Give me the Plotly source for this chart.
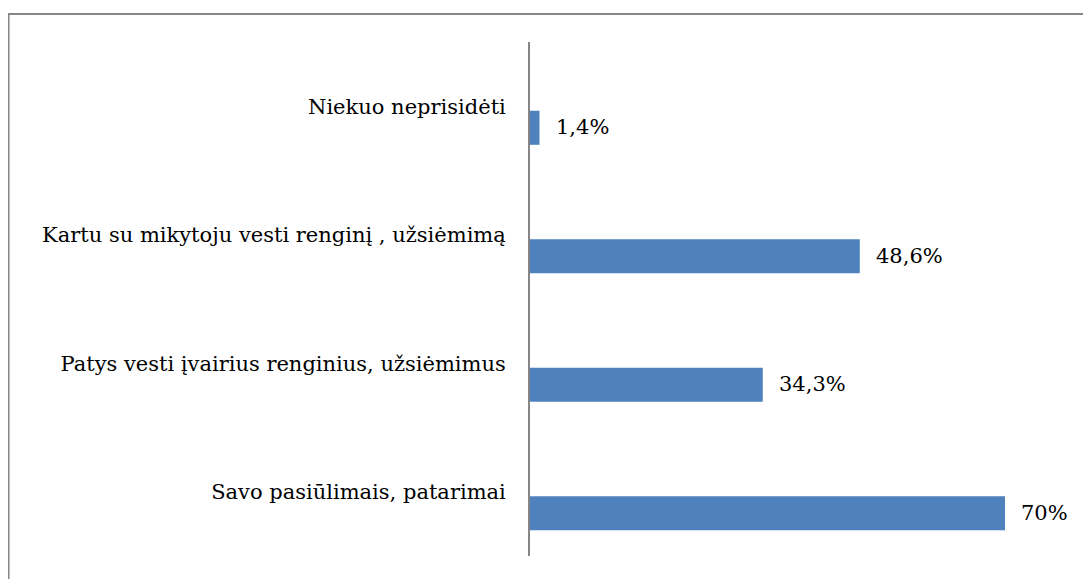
import plotly.graph_objects as go

categories = [
    "Savo pasiūlimais, patarimai",
    "Patys vesti įvairius renginius, užsiėmimus",
    "Kartu su mikytoju vesti renginį , užsiėmimą",
    "Niekuo neprisidėti",
]
values = [70, 34.3, 48.6, 1.4]
labels = [f"{v:g}".replace(".", ",") + "%" for v in values]

FONT = "DejaVu Serif"
FS = 21
BAR = "#4F81BD"
GRAY = "#868686"

fig = go.Figure()
fig.add_trace(go.Bar(
    y=categories, x=values, orientation="h",
    marker=dict(color=BAR, line=dict(width=0)),
    width=0.265, offset=-0.30,
    hoverinfo="skip",
))

for c, v, t in zip(categories, values, labels):
    fig.add_annotation(
        x=v, y=c, xref="x", yref="y", text=t, showarrow=False,
        xanchor="left", yanchor="middle", xshift=14, yshift=-21,
        font=dict(family=FONT, size=FS, color="black"),
    )

# page has an 8px body margin; positions below are in figure coordinates
OFF = 8
L, R, T, B = 530 - OFF, 1070 - OFF, 42 - OFF, 556 - OFF
W, H = 1091, 579
fig.add_shape(
    type="rect", xref="paper", yref="paper",
    x0=(8.5 - OFF - L) / (R - L), x1=1.2,
    y0=-0.2, y1=(B - (14 - OFF)) / (B - T),
    line=dict(color=GRAY, width=2), fillcolor="rgba(0,0,0,0)", layer="below",
)

fig.update_layout(
    width=W, height=H,
    margin=dict(l=L, r=W - R, t=T, b=H - B, autoexpand=False),
    paper_bgcolor="white", plot_bgcolor="white",
    showlegend=False,
    font=dict(family=FONT, size=FS, color="black"),
    xaxis=dict(range=[0, (R - L) / 6.786], showticklabels=False, showgrid=False,
               zeroline=False, showline=False, fixedrange=True, automargin=False),
    yaxis=dict(type="category", categoryorder="array", categoryarray=categories,
               range=[-0.5, 3.5], showline=True, linecolor=GRAY, linewidth=2,
               showgrid=False, zeroline=False, ticks="", ticklabelstandoff=18,
               automargin=False,
               tickfont=dict(family=FONT, size=FS, color="black"), fixedrange=True),
)

fig.write_html("out.html")
